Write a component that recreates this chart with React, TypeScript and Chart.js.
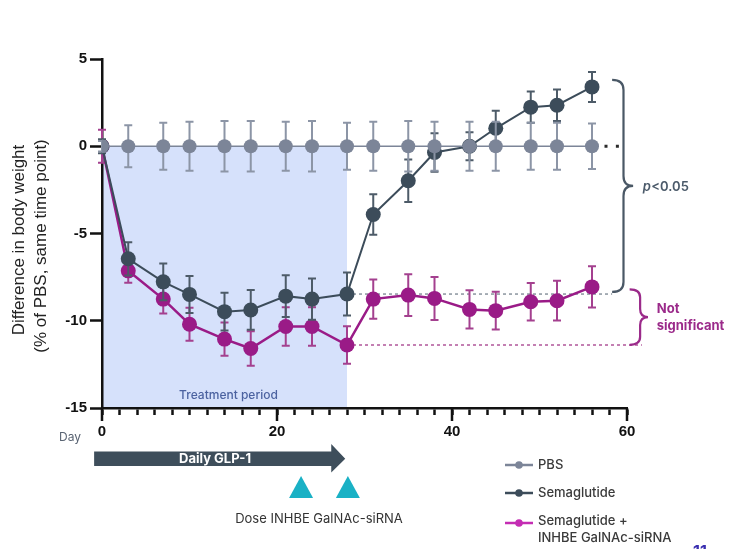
import React, { useEffect, useRef } from 'react';
import { Chart, registerables } from 'chart.js';
Chart.register(...registerables);

// ---------- data ----------
const days = [0, 3, 7, 10, 14, 17, 21, 24, 28, 31, 35, 38, 42, 45, 49, 52, 56];
const pbs = [0, 0, 0, 0, 0, 0, 0, 0, 0, 0, 0, 0, 0, 0, 0, 0, 0];
const pbsErr = [0.3, 1.2, 1.35, 1.4, 1.45, 1.45, 1.4, 1.45, 1.35, 1.4, 1.45, 1.4, 1.4, 1.4, 1.35, 1.35, 1.3];
const sema = [0, -6.45, -7.77, -8.49, -9.48, -9.38, -8.59, -8.76, -8.47, -3.91, -1.98, -0.36, 0.0, 1.03, 2.24, 2.35, 3.4];
const semaErr = [0.4, 0.95, 1.05, 1.06, 1.08, 1.14, 1.2, 1.18, 1.23, 1.16, 1.22, 1.1, 0.8, 1.0, 0.9, 0.9, 0.86];
const combo = [0, -7.14, -8.76, -10.2, -11.05, -11.59, -10.33, -10.33, -11.39, -8.76, -8.53, -8.72, -9.35, -9.42, -8.91, -8.85, -8.06];
const comboErr = [0.95, 0.68, 0.82, 0.95, 0.95, 0.99, 1.1, 1.1, 1.08, 1.12, 1.2, 1.23, 1.1, 1.08, 1.08, 1.14, 1.18];

const seriesLabels = ['PBS', 'Semaglutide', 'Semaglutide +\nINHBE GalNAc-siRNA'];
const yTickValues = [-15, -10, -5, 0, 5];
const xMajorTicks = [0, 20, 40, 60];
const treatmentPeriod = [0, 28];
const doseDays = [22.75, 28.1];
const glpArrow = [-0.9, 26.2, 27.8];

// ---------- style ----------
const PBS_C = '#7c8598';
const PBS_ERR = '#8c95a6';
const SEMA_C = '#3c4c5a';
const SEMA_ERR = '#4d5b68';
const COMBO_C = '#9a1b87';
const COMBO_ERR = '#a4408f';
const COMBO_LEG = '#c42db3';
const SHADE = '#d6e1fb';
const AXIS_C = '#111111';

const errs = [pbsErr, semaErr, comboErr];
const errColors = [PBS_ERR, SEMA_ERR, COMBO_ERR];

function brace(ctx: CanvasRenderingContext2D, xEnd: number, xSpine: number, xTip: number, yTop: number, yBot: number, r: number) {
  const ym = (yTop + yBot) / 2;
  ctx.beginPath();
  ctx.moveTo(xEnd, yTop);
  ctx.quadraticCurveTo(xSpine, yTop, xSpine, yTop + r);
  ctx.lineTo(xSpine, ym - r);
  ctx.quadraticCurveTo(xSpine, ym, xTip, ym);
  ctx.quadraticCurveTo(xSpine, ym, xSpine, ym + r);
  ctx.lineTo(xSpine, yBot - r);
  ctx.quadraticCurveTo(xSpine, yBot, xEnd, yBot);
  ctx.stroke();
}

const decor = {
  id: 'decor',
  beforeDraw(chart: any) {
    const { ctx, scales } = chart;
    const x = scales.x, y = scales.y;
    ctx.save();
    const x0 = x.getPixelForValue(treatmentPeriod[0]);
    const x1 = x.getPixelForValue(treatmentPeriod[1]);
    const y0 = y.getPixelForValue(0);
    const y1 = y.getPixelForValue(-15);
    ctx.fillStyle = SHADE;
    ctx.fillRect(x0, y0, x1 - x0, y1 - y0);
    ctx.fillStyle = '#4b62a0';
    ctx.font = '500 12px Inter';
    ctx.textAlign = 'center';
    ctx.textBaseline = 'middle';
    ctx.fillText('Treatment period', (x0 + x1) / 2 + 4, y.getPixelForValue(-14.28));
    ctx.restore();
  },
  beforeDatasetsDraw(chart: any) {
    const { ctx, scales } = chart;
    const x = scales.x, y = scales.y;
    ctx.save();
    ctx.lineWidth = 1.5;
    ctx.setLineDash([3, 3]);
    ctx.strokeStyle = '#8a949f';
    let yy = y.getPixelForValue(sema[8]);
    ctx.beginPath();
    ctx.moveTo(x.getPixelForValue(28), yy);
    ctx.lineTo(x.getPixelForValue(58.3), yy);
    ctx.stroke();
    ctx.strokeStyle = '#b0569a';
    yy = y.getPixelForValue(combo[8]);
    ctx.beginPath();
    ctx.moveTo(x.getPixelForValue(28), yy);
    ctx.lineTo(x.getPixelForValue(61.7), yy);
    ctx.stroke();
    ctx.restore();
  },
  beforeDatasetDraw(chart: any, args: any) {
    const { ctx, scales } = chart;
    const y = scales.y;
    const i = args.index;
    const e = errs[i];
    const ds = chart.data.datasets[i];
    ctx.save();
    ctx.strokeStyle = errColors[i];
    ctx.lineWidth = 2;
    args.meta.data.forEach((p: any, j: number) => {
      const v = ds.data[j].y;
      const t = y.getPixelForValue(v + e[j]);
      const b = y.getPixelForValue(v - e[j]);
      ctx.beginPath();
      ctx.moveTo(p.x, t); ctx.lineTo(p.x, b);
      ctx.moveTo(p.x - 4, t); ctx.lineTo(p.x + 4, t);
      ctx.moveTo(p.x - 4, b); ctx.lineTo(p.x + 4, b);
      ctx.stroke();
    });
    ctx.restore();
  },
  afterDraw(chart: any) {
    const { ctx, scales } = chart;
    const x = scales.x, y = scales.y;
    ctx.save();
    // major tick extension
    ctx.strokeStyle = AXIS_C;
    ctx.lineWidth = 2.5;
    const ax = y.getPixelForValue(-15);
    xMajorTicks.forEach((v) => {
      const px = x.getPixelForValue(v);
      ctx.beginPath();
      ctx.moveTo(px, ax);
      ctx.lineTo(px, ax + 13);
      ctx.stroke();
    });
    // PBS trailing dots
    ctx.fillStyle = '#2b2b2b';
    [57.6, 58.9].forEach((d) => {
      ctx.fillRect(x.getPixelForValue(d) - 1.5, y.getPixelForValue(0) - 1.5, 3, 3);
    });
    // braces
    ctx.lineWidth = 2.2;
    ctx.strokeStyle = '#4a5866';
    brace(ctx, x.getPixelForValue(58.3), x.getPixelForValue(59.6), x.getPixelForValue(60.7), y.getPixelForValue(3.8), y.getPixelForValue(-8.35), 10);
    ctx.strokeStyle = '#9b2a8a';
    brace(ctx, x.getPixelForValue(60.3), x.getPixelForValue(61.5), x.getPixelForValue(62.4), y.getPixelForValue(-8.2), y.getPixelForValue(-11.38), 8);
    // p<0.05
    ctx.textBaseline = 'middle';
    ctx.textAlign = 'left';
    const pY = y.getPixelForValue(-2.33);
    const pX = x.getPixelForValue(61.8);
    ctx.fillStyle = '#4b5a6a';
    ctx.font = 'italic 600 13px Inter';
    ctx.fillText('p', pX, pY);
    const pw = ctx.measureText('p').width;
    ctx.font = '600 13px Inter';
    ctx.fillText('<0.05', pX + pw + 0.5, pY);
    // Not significant
    ctx.fillStyle = '#9b2a8a';
    ctx.font = '700 13px Inter';
    const nX = x.getPixelForValue(63.4);
    ctx.fillText('Not', nX, y.getPixelForValue(-9.34));
    ctx.fillText('significant', nX, y.getPixelForValue(-10.33));

    // Day label
    ctx.fillStyle = '#5a6473';
    ctx.font = '12px Inter';
    ctx.textAlign = 'center';
    ctx.fillText('Day', 70, 437);

    // y title
    ctx.save();
    ctx.fillStyle = '#222';
    ctx.font = '17px "Liberation Sans"';
    ctx.textAlign = 'center';
    ctx.translate(19, 240);
    ctx.rotate(-Math.PI / 2);
    ctx.fillText('Difference in body weight', 0, 0);
    ctx.restore();
    ctx.save();
    ctx.fillStyle = '#222';
    ctx.font = '17px "Liberation Sans"';
    ctx.textAlign = 'center';
    ctx.textBaseline = 'middle';
    ctx.translate(41, 246);
    ctx.rotate(-Math.PI / 2);
    ctx.fillText('(% of PBS, same time point)', 0, 0);
    ctx.restore();

    // GLP-1 arrow
    const a0 = x.getPixelForValue(glpArrow[0]);
    const a1 = x.getPixelForValue(glpArrow[1]);
    const a2 = x.getPixelForValue(glpArrow[2]);
    ctx.fillStyle = '#3e4e5b';
    ctx.beginPath();
    ctx.moveTo(a0, 451.5);
    ctx.lineTo(a1, 451.5);
    ctx.lineTo(a1, 444);
    ctx.lineTo(a2, 458.7);
    ctx.lineTo(a1, 472.5);
    ctx.lineTo(a1, 466);
    ctx.lineTo(a0, 466);
    ctx.closePath();
    ctx.fill();
    ctx.fillStyle = '#ffffff';
    ctx.font = '700 13px Inter';
    ctx.textAlign = 'center';
    ctx.fillText('Daily GLP-1', 215, 459);

    // dose triangles
    ctx.fillStyle = '#1ab1c5';
    doseDays.forEach((d) => {
      const cx = x.getPixelForValue(d);
      ctx.beginPath();
      ctx.moveTo(cx, 476);
      ctx.lineTo(cx + 12, 498);
      ctx.lineTo(cx - 12, 498);
      ctx.closePath();
      ctx.fill();
    });
    ctx.fillStyle = '#333';
    ctx.font = '13px Inter';
    ctx.fillText('Dose INHBE GalNAc-siRNA', 319, 519);

    // legend
    const legY = [465, 493, 521];
    const legC = [PBS_C, SEMA_C, COMBO_LEG];
    seriesLabels.forEach((lab, i) => {
      const ly = i === 2 ? legY[i] + 2 : legY[i];
      ctx.strokeStyle = legC[i];
      ctx.lineWidth = 2.5;
      ctx.beginPath();
      ctx.moveTo(505, ly);
      ctx.lineTo(533, ly);
      ctx.stroke();
      ctx.fillStyle = legC[i];
      ctx.beginPath();
      ctx.arc(519, ly, 3.8, 0, Math.PI * 2);
      ctx.fill();
      ctx.fillStyle = '#3a3a3a';
      ctx.font = '500 13px Inter';
      ctx.textAlign = 'left';
      lab.split('\n').forEach((line, k) => {
        ctx.fillText(line, 538, legY[i] + k * 17.5);
      });
    });

    // slide number fragment
    ctx.fillStyle = '#3a2fb0';
    ctx.font = '700 16px Inter';
    ctx.textBaseline = 'top';
    ctx.textAlign = 'left';
    ctx.fillText('11', 693, 544);
    ctx.restore();
  },
};

export default function App() {
  const ref = useRef<HTMLCanvasElement>(null);
  useEffect(() => {
    const mk = (vals: number[]) => days.map((d, i) => ({ x: d, y: vals[i] }));
    const chart = new Chart(ref.current!, {
      type: 'line',
      data: {
        datasets: [
          {
            label: seriesLabels[0], data: mk(pbs), borderColor: PBS_C, backgroundColor: PBS_C,
            borderWidth: 1.5, pointRadius: 7, pointBorderWidth: 0, pointBackgroundColor: PBS_C,
          },
          {
            label: seriesLabels[1], data: mk(sema), borderColor: SEMA_C, backgroundColor: SEMA_C,
            borderWidth: 2, pointRadius: 7.5, pointBorderWidth: 0, pointBackgroundColor: SEMA_C,
          },
          {
            label: seriesLabels[2], data: mk(combo), borderColor: COMBO_C, backgroundColor: COMBO_C,
            borderWidth: 2.5, pointRadius: 7.5, pointBorderWidth: 0, pointBackgroundColor: COMBO_C,
          },
        ],
      } as any,
      options: {
        animation: false,
        responsive: false,
        devicePixelRatio: 1,
        layout: { padding: { left: 0, right: 116, top: 59, bottom: 0 } },
        plugins: { legend: { display: false }, tooltip: { enabled: false } },
        scales: {
          x: {
            type: 'linear', min: 0, max: 60,
            afterFit: (s: any) => { s.height = 141; },
            ticks: {
              stepSize: 2, autoSkip: false, maxRotation: 0, padding: 8,
              color: AXIS_C, font: { family: '"Liberation Sans"', size: 15, weight: 'bold' },
              callback: (v: any) => (xMajorTicks.includes(Number(v)) ? String(v) : ''),
            },
            grid: { drawOnChartArea: false, drawTicks: true, tickLength: 7, tickWidth: 2.5, tickColor: AXIS_C },
            border: { display: true, color: AXIS_C, width: 2.5 },
          },
          y: {
            type: 'linear', min: -15, max: 5,
            afterFit: (s: any) => { s.width = 102; },
            afterBuildTicks: (s: any) => { s.ticks = yTickValues.map((v) => ({ value: v })); },
            ticks: {
              stepSize: 5, padding: 3, color: AXIS_C,
              font: { family: '"Liberation Sans"', size: 15, weight: 'bold' },
            },
            grid: { drawOnChartArea: false, drawTicks: true, tickLength: 12, tickWidth: 2.5, tickColor: AXIS_C },
            border: { display: true, color: AXIS_C, width: 2.5 },
          },
        },
      } as any,
      plugins: [decor as any],
    });
    return () => chart.destroy();
  }, []);
  return (
    <div style={{ position: 'fixed', left: 0, top: 0, width: 743, height: 549, background: '#fff' }}>
      <canvas ref={ref} width={743} height={549} style={{ display: 'block', width: 743, height: 549 }} />
    </div>
  );
}
